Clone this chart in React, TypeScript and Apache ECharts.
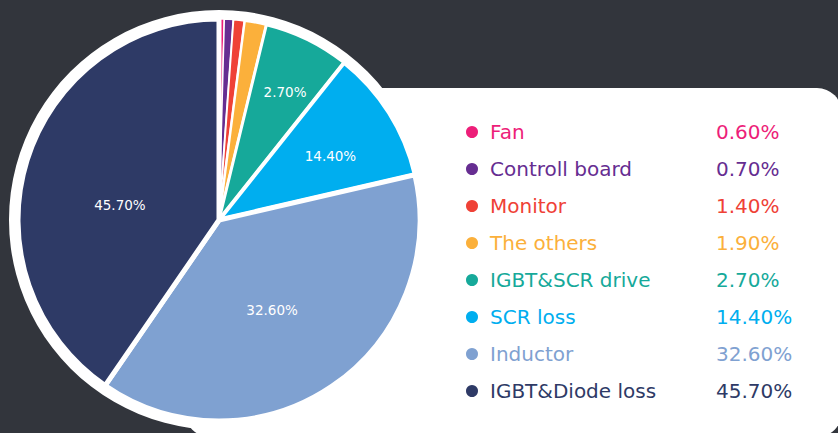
import React, { useEffect, useRef } from 'react';
import * as echarts from 'echarts';

// ---- data ----
const categories = ['Fan', 'Controll board', 'Monitor', 'The others', 'IGBT&SCR drive', 'SCR loss', 'Inductor', 'IGBT&Diode loss'];
const percentLabels = ['0.60%', '0.70%', '1.40%', '1.90%', '2.70%', '14.40%', '32.60%', '45.70%'];
// slice sizes as drawn in the picture (share of the circle, %)
const sliceValues = [0.42, 0.72, 0.9, 1.75, 6.9, 10.7, 38.2, 40.41];
const colors = ['#ED1E79', '#662D91', '#EF4136', '#FBB03B', '#16A99A', '#00AEEF', '#7FA1D1', '#2E3A66'];
const showInnerLabel = [false, false, false, false, true, true, true, true];

// label placement styling (radius fraction, angle nudge in degrees)
const labelRadius = [0.5, 0.5, 0.5, 0.5, 0.71, 0.63, 0.5, 0.485];
const labelAngleNudge = [0, 0, 0, 0, 1.0, 1.8, 3.5, -8];
const borderWidths = [1.5, 1.5, 2, 2.5, 3, 4, 5, 5];

const FONT = 'DejaVu Sans';
const CENTER: [number, number] = [219, 220];
const R = 201;
const RING_R = 210;

export default function App() {
  const ref = useRef<HTMLDivElement>(null);

  useEffect(() => {
    const chart = echarts.init(ref.current!, null, { renderer: 'svg' });
    const total = sliceValues.reduce((a, b) => a + b, 0);
    let cum = 0;
    const effR = R - 2;
    const data = categories.map((name, i) => {
      const mid = ((cum + sliceValues[i] / 2) / total) * Math.PI * 2;
      cum += sliceValues[i];
      const target = mid + (labelAngleNudge[i] * Math.PI) / 180;
      const rr = labelRadius[i] * effR;
      const base = 0.5 * effR;
      const dx = rr * Math.sin(target) - base * Math.sin(mid);
      const dy = -rr * Math.cos(target) + base * Math.cos(mid) + 1.5;
      return {
        name,
        value: sliceValues[i],
        itemStyle: { color: colors[i], borderWidth: borderWidths[i] },
        label: {
          show: showInnerLabel[i],
          offset: [dx, dy],
        },
      };
    });

    const rich: Record<string, any> = {};
    categories.forEach((_, i) => {
      rich['n' + i] = { width: 226, fontSize: 20, fontFamily: FONT, color: colors[i], lineHeight: 22 };
      rich['v' + i] = { fontSize: 20, fontFamily: FONT, color: colors[i], lineHeight: 22 };
    });

    const option: any = {
      animation: false,
      backgroundColor: '#32353C',
      graphic: [
        {
          type: 'rect',
          z: 0,
          shape: { x: 185, y: 88, width: 657, height: 349, r: 25 },
          style: { fill: '#FFFFFF' },
          silent: true,
        },
      ],
      legend: {
        orient: 'vertical',
        left: 464,
        top: 122,
        padding: 0,
        itemWidth: 26,
        itemHeight: 14,
        itemGap: 17,
        icon: 'circle',
        selectedMode: false,
        data: categories,
        textStyle: { fontFamily: FONT, fontSize: 20, rich },
        formatter: (name: string) => {
          const i = categories.indexOf(name);
          return `{n${i}|${name}}{v${i}|${percentLabels[i]}}`;
        },
      },
      series: [
        {
          type: 'pie',
          name: 'ring',
          center: CENTER,
          radius: RING_R,
          z: 1,
          silent: true,
          label: { show: false },
          labelLine: { show: false },
          itemStyle: { color: '#FFFFFF' },
          data: [{ name: '', value: 1 }],
        },
        {
          type: 'pie',
          center: CENTER,
          radius: R,
          startAngle: 90,
          clockwise: true,
          z: 2,
          silent: true,
          avoidLabelOverlap: false,
          itemStyle: { borderColor: '#FFFFFF' },
          label: {
            position: 'inside',
            color: '#FFFFFF',
            fontFamily: FONT,
            fontSize: 13.5,
            formatter: (p: any) => percentLabels[p.dataIndex],
          },
          labelLine: { show: false },
          data,
        },
      ],
    };
    chart.setOption(option);
    return () => chart.dispose();
  }, []);

  return <div ref={ref} style={{ position: 'fixed', left: 0, top: 0, width: 838, height: 433 }} />;
}
